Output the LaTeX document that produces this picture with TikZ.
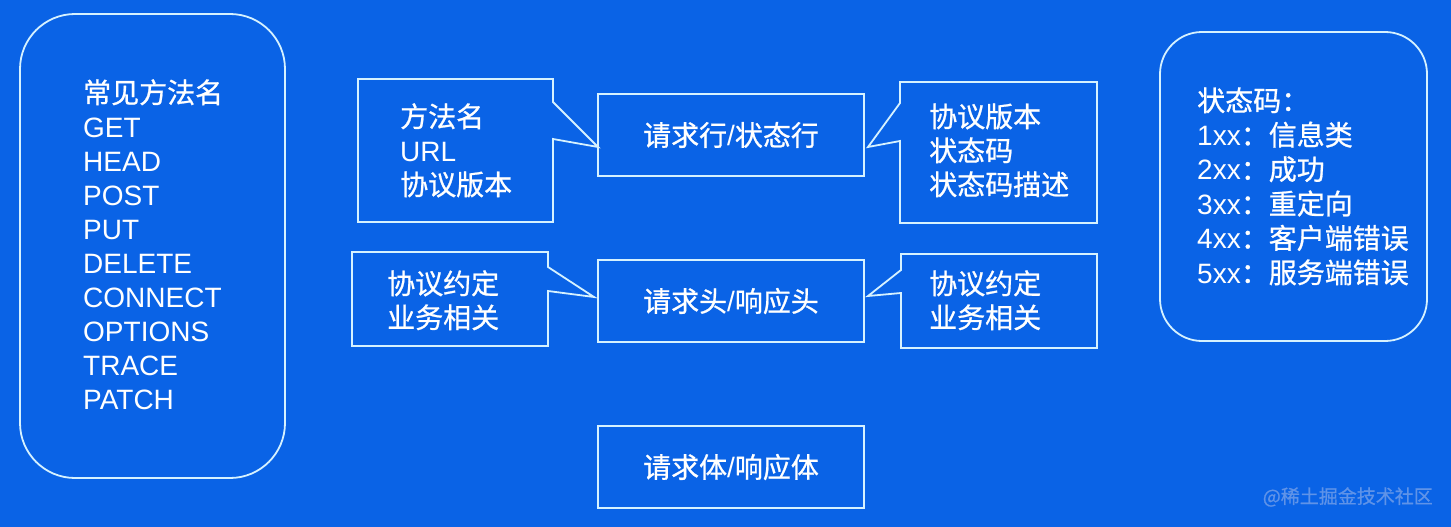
\documentclass[tikz,border=0pt]{standalone}
\usepackage{fontspec}
\setmainfont{Liberation Sans}
\newfontfamily\cjk[FakeBold=0.8]{Noto Sans CJK SC}
\definecolor{bg}{HTML}{0A63E6}
\definecolor{edge}{HTML}{D6F2FF}
\definecolor{wm}{HTML}{5F93E8}
\newcommand{\myslash}{{\rmfamily /}}
\begin{document}
\begin{tikzpicture}[x=1pt,y=-1pt,
  mid/.style={draw=edge, line width=1.8pt, minimum width=266pt, minimum height=82pt, inner sep=0pt,
              font=\cjk\fontsize{28}{34}\selectfont, text=white},
  ln/.style={anchor=base west, inner sep=0pt, text=white, font=\fontsize{28}{34}\selectfont},
  cj/.style={ln, font=\cjk\fontsize{28}{34}\selectfont},
  callout/.style={draw=edge, line width=1.8pt, line join=miter},
  roundbox/.style={draw=edge, line width=1.8pt, inner sep=0pt}]
\fill[bg] (0,0) rectangle (1451,527);
\useasboundingbox (0,0) rectangle (1451,527);

% left rounded box
\node[roundbox, rounded corners=55pt, minimum width=265pt, minimum height=464pt] (methods) at (152.5,246) {};
\node[cj] (mh) at (83,103) {常见方法名};
\foreach \t [count=\i from 1] in {GET,HEAD,POST,PUT,DELETE,CONNECT,OPTIONS,TRACE,PATCH}
  \node[ln] (m\i) at (83,103+34*\i) {\t};

% right rounded box
\node[roundbox, rounded corners=42pt, minimum width=267pt, minimum height=309pt] (codes) at (1293.5,186.5) {};
\node[cj] (ch) at (1197,111) {状态码：};
\node[ln] (c1) at (1197,145.4) {1xx\cjk{：信息类}};
\node[ln] (c2) at (1197,179.8) {2xx\cjk{：成功}};
\node[ln] (c3) at (1197,214.2) {3xx\cjk{：重定向}};
\node[ln] (c4) at (1197,248.6) {4xx\cjk{：客户端错误}};
\node[ln] (c5) at (1197,283) {5xx\cjk{：服务端错误}};

% middle boxes
\node[mid] (line) at (731,135) {请求行\myslash 状态行};
\node[mid] (head) at (731,301) {请求头\myslash 响应头};
\node[mid] (body) at (731,467) {请求体\myslash 响应体};

% callouts
\coordinate (t1) at (598,147);
\coordinate (t2) at (868,147);
\coordinate (t3) at (594,297);
\coordinate (t4) at (868,296);
\draw[callout] (553,102) -- (553,79) -- (358,79) -- (358,222) -- (553,222) -- (553,139) -- (t1) -- cycle;
\draw[callout] (900,103) -- (900,82) -- (1097,82) -- (1097,223) -- (900,223) -- (900,141) -- (t2) -- cycle;
\draw[callout] (548,267) -- (548,252) -- (352,252) -- (352,346) -- (548,346) -- (548,291) -- (t3) -- cycle;
\draw[callout] (901,270) -- (901,254) -- (1097,254) -- (1097,348) -- (901,348) -- (901,293) -- (t4) -- cycle;

\node[cj] (a1) at (400,127) {方法名};
\node[ln] (a2) at (400,161) {URL};
\node[cj] (a3) at (400,195) {协议版本};

\node[cj] (b1) at (929,127) {协议版本};
\node[cj] (b2) at (929,161) {状态码};
\node[cj] (b3) at (929,195) {状态码描述};

\node[cj] (d1) at (387,294) {协议约定};
\node[cj] (d2) at (387,328) {业务相关};

\node[cj] (e1) at (929,294) {协议约定};
\node[cj] (e2) at (929,328) {业务相关};

% watermark
\node[anchor=east, inner sep=0pt, text=wm, font=\cjk\fontsize{19}{19}\selectfont] (wmark) at (1433,497) {@稀土掘金技术社区};
\end{tikzpicture}
\end{document}
